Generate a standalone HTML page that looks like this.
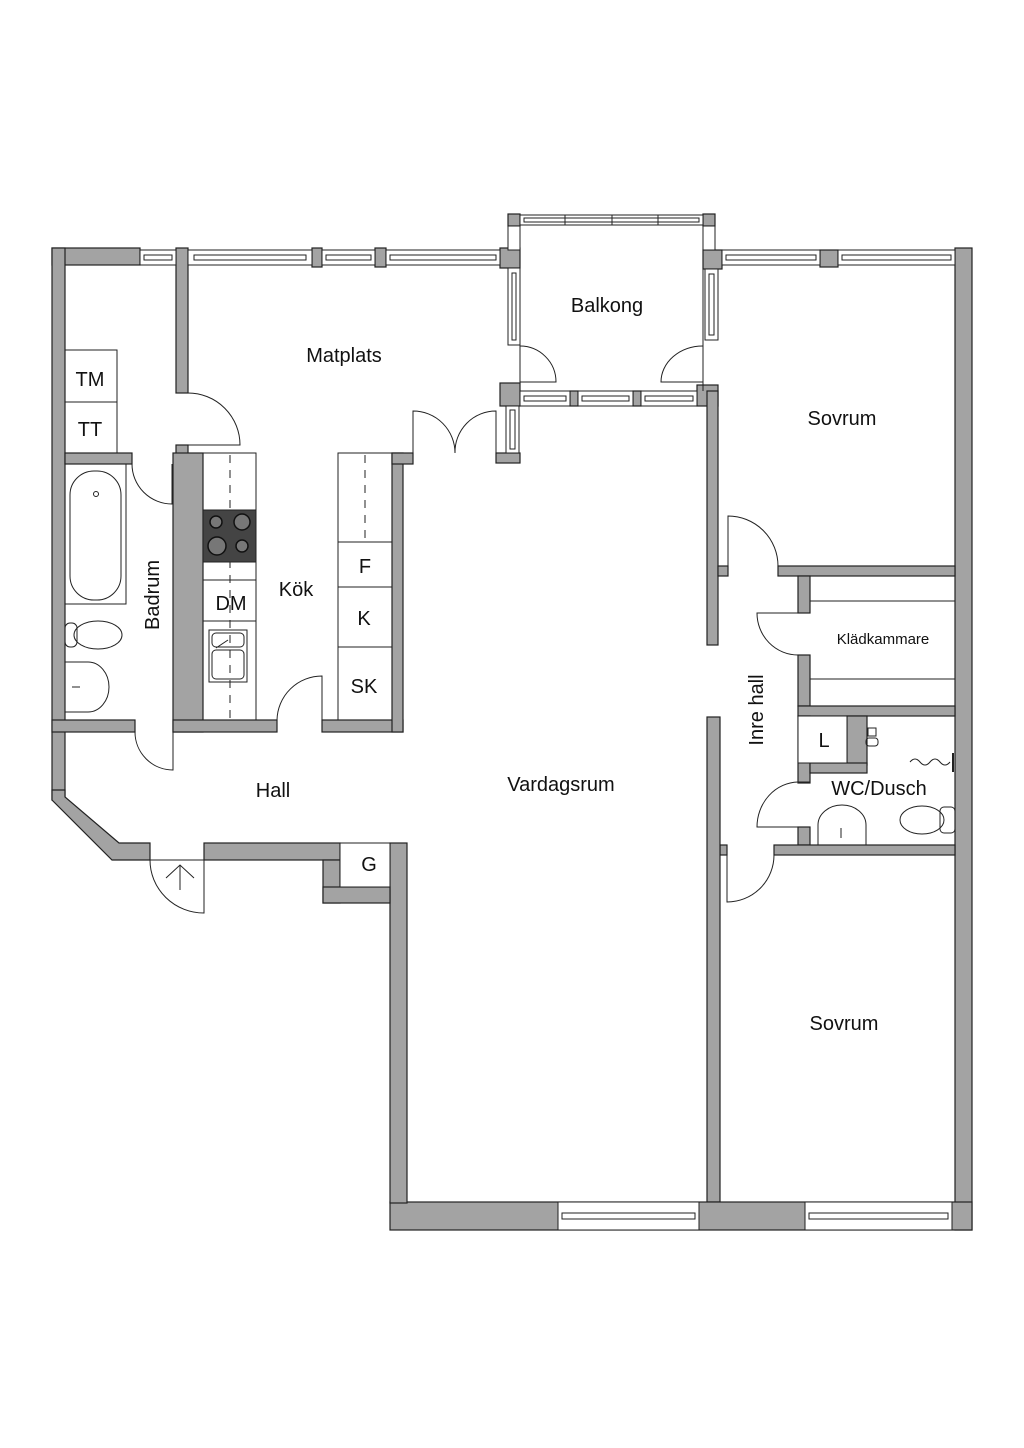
<!DOCTYPE html>
<html><head><meta charset="utf-8"><style>
html,body{margin:0;padding:0;background:#fff;}
svg{display:block;}
text{font-family:"Liberation Sans",sans-serif;fill:#111;}
</style></head><body>
<svg width="1024" height="1448" viewBox="0 0 1024 1448" xmlns="http://www.w3.org/2000/svg">
<defs>
<g id="x"></g>
</defs>
<g fill="#a3a3a3" stroke="#222" stroke-width="1.2">
<!-- top left -->
<rect x="52" y="248" width="88" height="17"/>
<rect x="176" y="248" width="12" height="145"/>
<rect x="312" y="248" width="10" height="19"/>
<rect x="375" y="248" width="11" height="19"/>
<rect x="500" y="248" width="20" height="20"/>
<rect x="52" y="248" width="13" height="552"/>
<rect x="176" y="445" width="12" height="10"/>
<rect x="173" y="453" width="30" height="279"/>
<rect x="65" y="453" width="67" height="11"/>
<rect x="52" y="720" width="83" height="12"/>
<rect x="173" y="720" width="104" height="12"/>
<rect x="322" y="720" width="81" height="12"/>
<rect x="392" y="453" width="11" height="279"/>
<rect x="392" y="453" width="21" height="11"/>
<rect x="496" y="453" width="24" height="10"/>
<rect x="500" y="383" width="20" height="23"/>
<!-- balcony pillars -->
<rect x="697" y="385" width="21" height="21"/>
<rect x="570" y="391" width="8" height="15"/>
<rect x="633" y="391" width="8" height="15"/>
<rect x="508" y="214" width="12" height="12"/>
<rect x="703" y="214" width="12" height="12"/>
<rect x="703" y="250" width="19" height="19"/>
<rect x="820" y="250" width="18" height="17"/>
<rect x="955" y="248" width="17" height="982"/>
<rect x="707" y="391" width="11" height="254"/>
<rect x="718" y="566" width="10" height="10"/>
<rect x="778" y="566" width="177" height="10"/>
<rect x="798" y="576" width="12" height="37"/>
<rect x="798" y="655" width="12" height="51"/>
<rect x="798" y="706" width="157" height="10"/>
<rect x="798" y="716" width="12" height="67"/>
<rect x="798" y="827" width="12" height="18"/>
<rect x="847" y="716" width="20" height="49"/>
<rect x="810" y="763" width="57" height="10"/>
<rect x="774" y="845" width="181" height="10"/>
<rect x="720" y="845" width="7" height="10"/>
<rect x="707" y="717" width="13" height="485"/>
<rect x="390" y="1202" width="582" height="28"/>
<rect x="390" y="843" width="17" height="360"/>
<polygon points="52,790 65,790 65,797 119,843 150,843 150,860 112,860 52,800"/>
<rect x="204" y="843" width="136" height="17"/>
<rect x="323" y="860" width="17" height="43"/>
<rect x="323" y="887" width="67" height="16"/>
</g>
<!-- windows -->
<g fill="#fff" stroke="#222" stroke-width="1">
<rect x="140" y="250" width="36" height="15"/><rect x="144" y="255" width="28" height="5"/>
<rect x="188" y="250" width="124" height="15"/><rect x="194" y="255" width="112" height="5"/>
<rect x="322" y="250" width="53" height="15"/><rect x="326" y="255" width="45" height="5"/>
<rect x="386" y="250" width="114" height="15"/><rect x="390" y="255" width="106" height="5"/>
<rect x="722" y="250" width="98" height="15"/><rect x="726" y="255" width="90" height="5"/>
<rect x="838" y="250" width="117" height="15"/><rect x="842" y="255" width="109" height="5"/>
<!-- balcony top -->
<rect x="520" y="215" width="183" height="10"/><rect x="524" y="218" width="175" height="4"/>
<line x1="565" y1="215" x2="565" y2="225"/><line x1="612" y1="215" x2="612" y2="225"/><line x1="658" y1="215" x2="658" y2="225"/>
<rect x="508" y="226" width="12" height="24"/>
<rect x="703" y="226" width="12" height="24"/>
<rect x="508" y="268" width="12" height="77"/><rect x="512" y="273" width="4" height="67"/>
<rect x="705" y="269" width="13" height="71"/><rect x="709" y="274" width="5" height="61"/>
<rect x="520" y="391" width="50" height="15"/><rect x="524" y="396" width="42" height="5"/>
<rect x="578" y="391" width="55" height="15"/><rect x="582" y="396" width="47" height="5"/>
<rect x="641" y="391" width="56" height="15"/><rect x="645" y="396" width="48" height="5"/>
<rect x="506" y="406" width="13" height="47"/><rect x="510" y="410" width="5" height="39"/>
<rect x="558" y="1202" width="141" height="28"/><rect x="562" y="1213" width="133" height="6"/>
<rect x="805" y="1202" width="147" height="28"/><rect x="809" y="1213" width="139" height="6"/>
</g>
<!-- balcony frame lines -->
<g fill="none" stroke="#222" stroke-width="1">
<line x1="520" y1="226" x2="520" y2="391"/>
<line x1="703" y1="226" x2="703" y2="391"/>
<!-- doors -->
<path d="M188,393 A52,52 0 0 1 240,445 L188,445"/>
<path d="M132,464 A40,40 0 0 0 172,504 L172,464"/>
<path d="M135,732 A38,38 0 0 0 173,770 L173,732"/>
<path d="M277,720 A45,45 0 0 1 322,676 L322,720"/>
<path d="M413,453 L413,411 A42,42 0 0 1 455,453"/>
<path d="M496,453 L496,411 A41,41 0 0 0 455,453"/>
<path d="M520,346 A36,36 0 0 1 556,382 L520,382"/>
<path d="M703,346 A42,36 0 0 0 661,382 L703,382"/>
<path d="M728,566 L728,516 A50,50 0 0 1 778,566"/>
<path d="M798,613 L757,613 A41,42 0 0 0 798,655"/>
<path d="M810,782 L798,782 A42,45 0 0 0 757,827 L798,827"/>
<path d="M774,855 A47,47 0 0 1 727,902 L727,855"/>
<path d="M150,860 A54,53 0 0 0 204,913 L204,860"/>
<line x1="150" y1="860" x2="204" y2="860"/>
<line x1="180" y1="890" x2="180" y2="865"/><path d="M166,878 L180,865 L194,878"/>
<!-- TM TT -->
<rect x="65" y="350" width="52" height="52"/><rect x="65" y="402" width="52" height="51"/>
<!-- bath -->
<rect x="65" y="464" width="61" height="140"/>
<rect x="70" y="471" width="51" height="129" rx="24"/>
<circle cx="96" cy="494" r="2.5"/>
<ellipse cx="98" cy="635" rx="24" ry="14"/><rect x="65" y="623" width="12" height="24" rx="5"/>
<path d="M65,662 L88,662 A21,25 0 0 1 88,712 L65,712"/><line x1="72" y1="687" x2="80" y2="687"/>
<!-- kitchen -->
<rect x="203" y="453" width="53" height="267"/>
<line x1="203" y1="580" x2="256" y2="580"/><line x1="203" y1="621" x2="256" y2="621"/>
<line x1="230" y1="455" x2="230" y2="720" stroke-dasharray="8,7"/>
<rect x="209" y="630" width="38" height="52"/><rect x="212" y="633" width="32" height="14" rx="4"/><rect x="212" y="650" width="32" height="29" rx="4"/>
<line x1="216" y1="648" x2="228" y2="640"/>
<rect x="338" y="453" width="54" height="267"/>
<line x1="338" y1="542" x2="392" y2="542"/><line x1="338" y1="587" x2="392" y2="587"/><line x1="338" y1="647" x2="392" y2="647"/>
<line x1="365" y1="455" x2="365" y2="540" stroke-dasharray="8,7"/>
<!-- G -->
<rect x="340" y="843" width="50" height="44" fill="#fff"/>
<!-- kläd shelves -->
<line x1="810" y1="601" x2="955" y2="601"/><line x1="810" y1="679" x2="955" y2="679"/>
<!-- L -->
<rect x="798" y="716" width="49" height="47" fill="#fff"/>
<!-- WC fixtures -->
<path d="M818,845 L818,825 A24,20 0 0 1 866,825 L866,845"/><line x1="841" y1="828" x2="841" y2="838"/>
<ellipse cx="922" cy="820" rx="22" ry="14"/><rect x="940" y="807" width="15" height="26" rx="4"/>
<path d="M910,762 q5,-6 10,0 q5,6 10,0 q5,-6 10,0 q5,6 10,0"/><line x1="953" y1="753" x2="953" y2="772" stroke-width="2"/>
<rect x="868" y="728" width="8" height="8"/><rect x="866" y="738" width="12" height="8" rx="3"/>
</g>
<!-- stove -->
<rect x="203" y="510" width="53" height="52" fill="#444" stroke="#222"/>
<g fill="#777" stroke="#111" stroke-width="1.5">
<circle cx="216" cy="522" r="6"/><circle cx="242" cy="522" r="8"/>
<circle cx="217" cy="546" r="9"/><circle cx="242" cy="546" r="6"/>
</g>
<!-- labels -->
<g font-size="20" text-anchor="middle">
<text x="607" y="312">Balkong</text>
<text x="344" y="362">Matplats</text>
<text x="842" y="425">Sovrum</text>
<text x="90" y="386">TM</text>
<text x="90" y="436">TT</text>
<text x="296" y="596">Kök</text>
<text x="231" y="610">DM</text>
<text x="365" y="573">F</text>
<text x="364" y="625">K</text>
<text x="364" y="693">SK</text>
<text x="824" y="747">L</text>
<text x="879" y="795">WC/Dusch</text>
<text x="273" y="797">Hall</text>
<text x="561" y="791">Vardagsrum</text>
<text x="369" y="871">G</text>
<text x="844" y="1030">Sovrum</text>
<text font-size="15" x="883" y="644">Klädkammare</text>
<text transform="translate(159,595) rotate(-90)">Badrum</text>
<text transform="translate(763,710) rotate(-90)">Inre hall</text>
</g>
</svg>
</body></html>
